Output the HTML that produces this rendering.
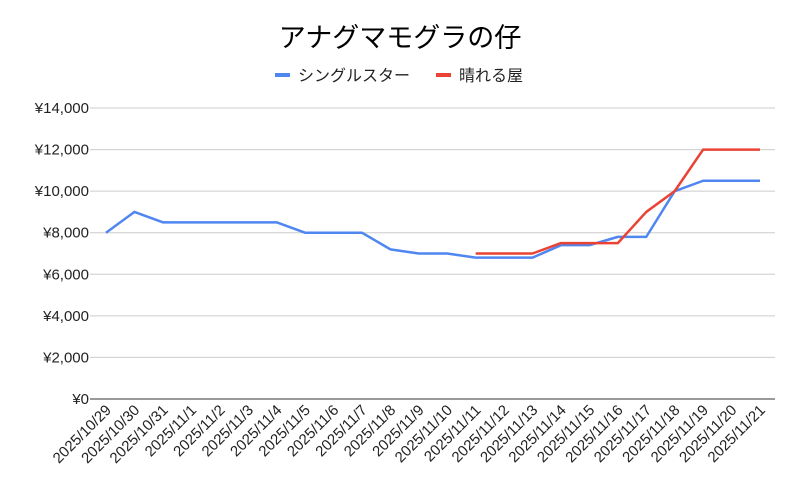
<!DOCTYPE html>
<html><head><meta charset="utf-8"><style>
body{margin:0;background:#fff}
svg{display:block;font-family:"Liberation Sans","Noto Sans CJK JP",sans-serif}
</style></head><body>
<svg id="chart" width="800" height="495">
<text x="400" y="47" text-anchor="middle" font-size="27" fill="#000">アナグマモグラの仔</text>
<g>
<g><line x1="275" y1="75" x2="290" y2="75" stroke="#4f86f0" stroke-width="4"/><text x="298" y="81" font-size="16" fill="#222">シングルスター</text></g>
<g><line x1="436" y1="75" x2="451" y2="75" stroke="#ea4335" stroke-width="4"/><text x="459" y="81" font-size="16" fill="#222">晴れる屋</text></g>
</g>
<g id="grid"></g><g id="xl"></g><g id="series"></g>
</svg>
<script>
const categories=["2025/10/29","2025/10/30","2025/10/31","2025/11/1","2025/11/2","2025/11/3","2025/11/4","2025/11/5","2025/11/6","2025/11/7","2025/11/8","2025/11/9","2025/11/10","2025/11/11","2025/11/12","2025/11/13","2025/11/14","2025/11/15","2025/11/16","2025/11/17","2025/11/18","2025/11/19","2025/11/20","2025/11/21"];
const singleStar=[8000,9000,8500,8500,8500,8500,8500,8000,8000,8000,7200,7000,7000,6800,6800,6800,7400,7400,7800,7800,10000,10500,10500,10500];
const hareruya=[null,null,null,null,null,null,null,null,null,null,null,null,null,7000,7000,7000,7500,7500,7500,9000,10000,12000,12000,12000];
const yTicks=[0,2000,4000,6000,8000,10000,12000,14000];
const yTickLabels=["¥0","¥2,000","¥4,000","¥6,000","¥8,000","¥10,000","¥12,000","¥14,000"];
const NS="http://www.w3.org/2000/svg";
const X0=106,X1=760,Y0=399,Y1=108,YMAX=14000;
const xs=i=>X0+(X1-X0)*i/(categories.length-1);
const ys=v=>Y0-(Y0-Y1)*v/YMAX;
function mk(t,a,p){const e=document.createElementNS(NS,t);for(const k in a)e.setAttribute(k,a[k]);p.appendChild(e);return e;}
const grid=document.getElementById('grid');
yTicks.forEach((v,i)=>{
 const l=mk('line',{x1:90,x2:775,y1:ys(v),y2:ys(v),stroke:v===0?'#333':'#ccc','stroke-width':1},grid);
 
 
 const t=mk('text',{x:89,y:ys(v)+5,'text-anchor':'end','font-size':15,fill:'#222'},grid);
 t.textContent=yTickLabels[i];
 
 
});
const xl=document.getElementById('xl');
categories.forEach((c,i)=>{
 const x=xs(i)+6,y=411;
 const t=mk('text',{x:x,y:y,'text-anchor':'end','font-size':15,fill:'#222',transform:`rotate(-45 ${x} ${y})`},xl);
 t.textContent=c;
 
 
});
const sg=document.getElementById('series');
function line(data,color,name){
 let d='';data.forEach((v,i)=>{if(v==null)return;d+=(d?'L':'M')+xs(i)+','+ys(v);});
 const p=mk('path',{d:d,fill:'none',stroke:color,'stroke-width':2.5,'stroke-linejoin':'round'},sg);
 
 
}
line(singleStar,'#4f86f0','series-single-star');
line(hareruya,'#ea4335','series-hareruya');
</script>
</body></html>
